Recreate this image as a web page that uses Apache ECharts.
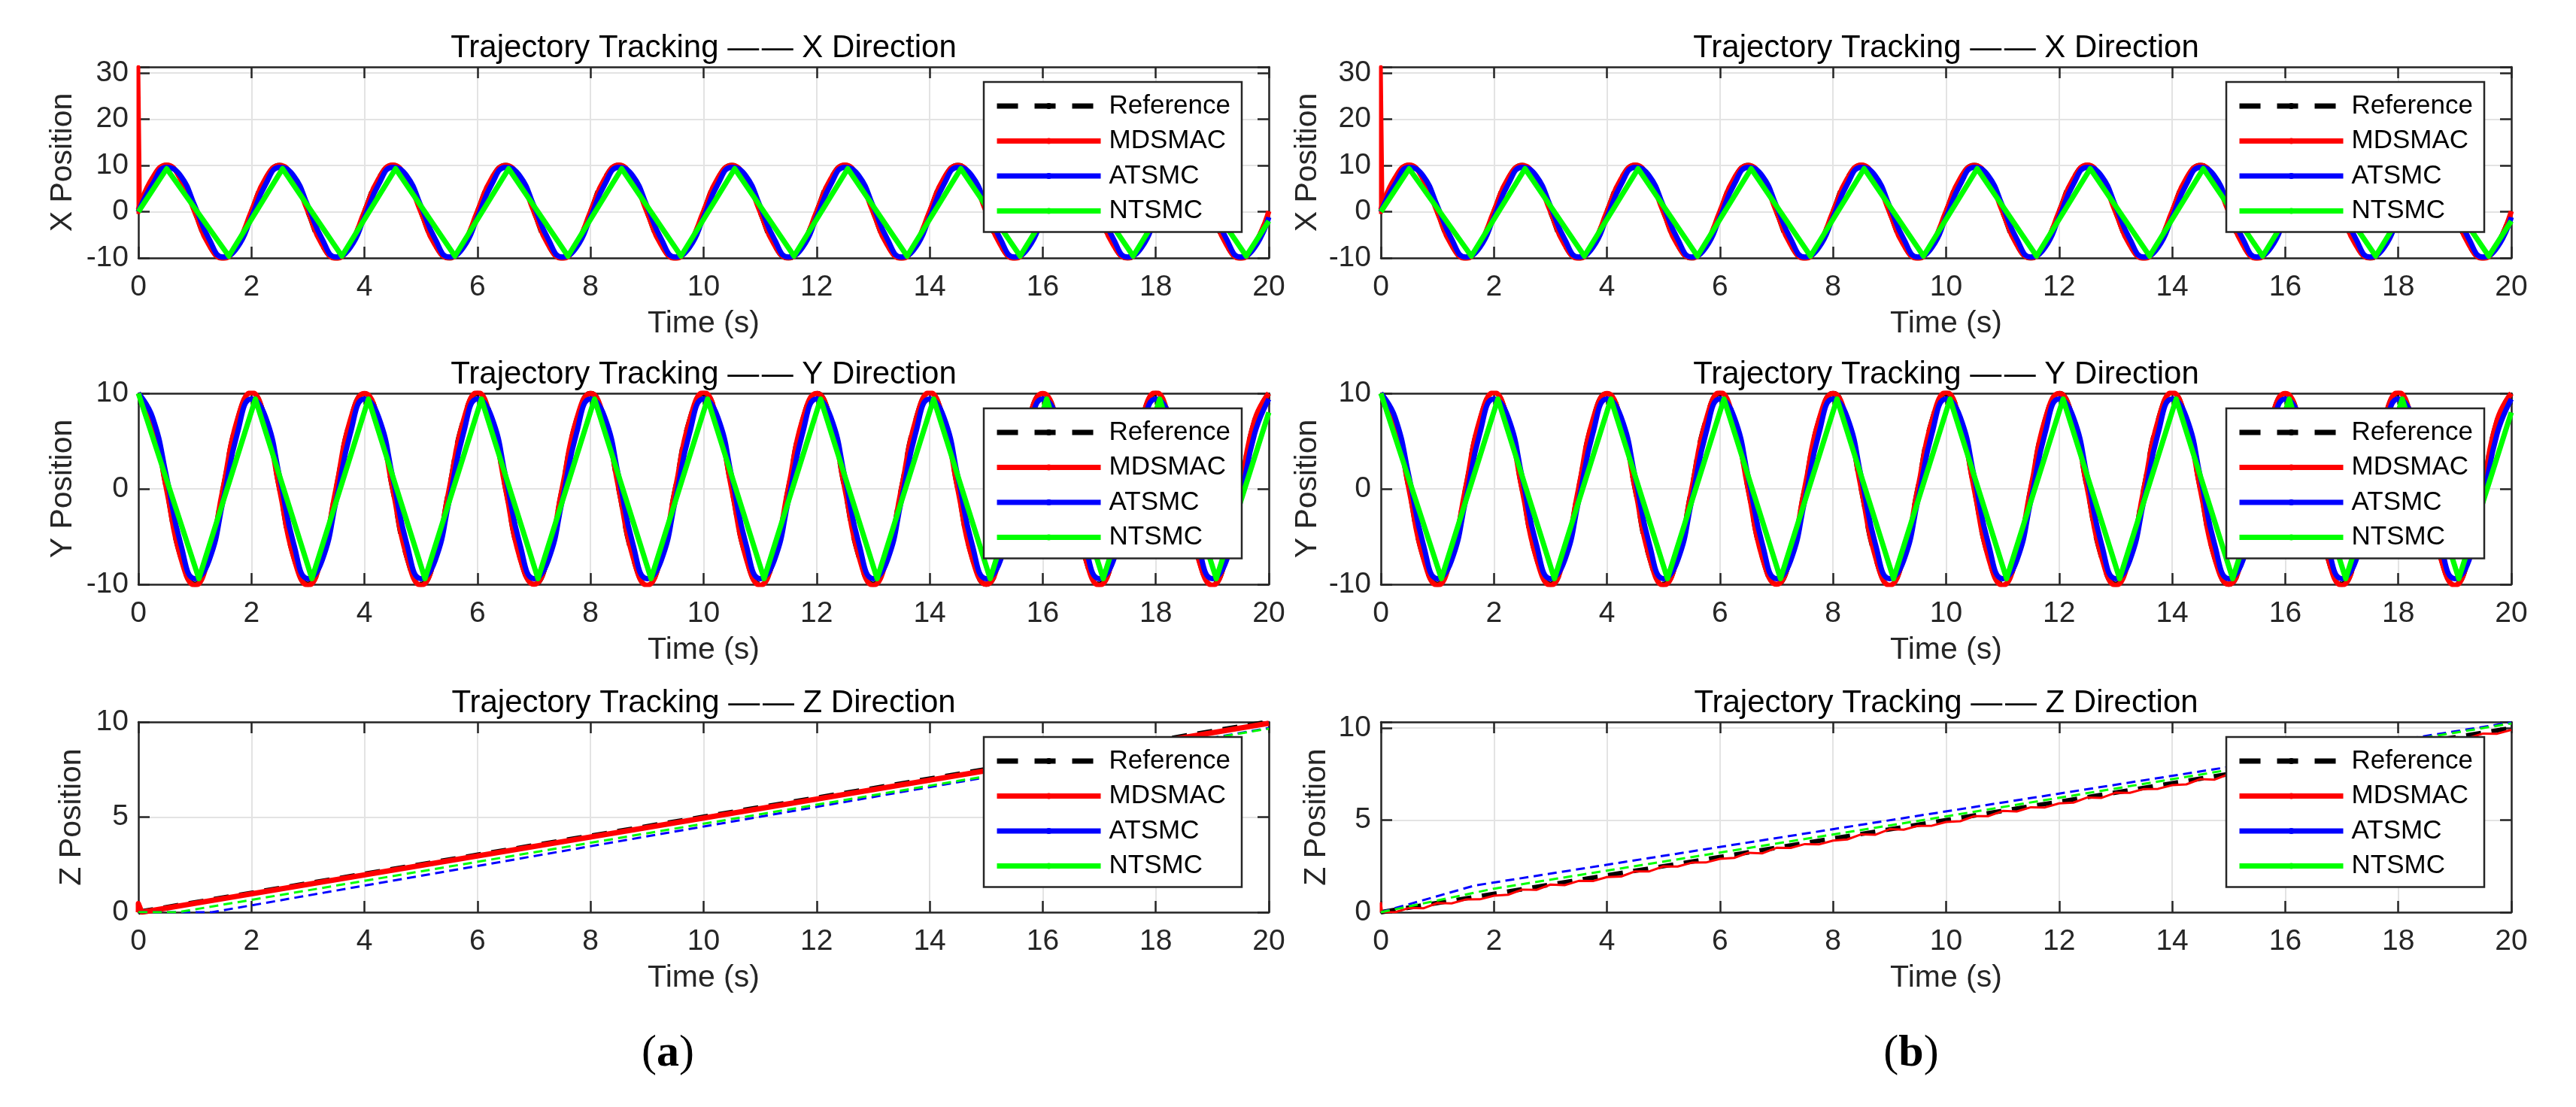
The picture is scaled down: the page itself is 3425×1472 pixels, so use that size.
<!DOCTYPE html>
<html>
<head>
<meta charset="utf-8">
<title>Trajectory Tracking</title>
<script src="https://cdn.jsdelivr.net/npm/echarts@6/dist/echarts.min.js"></script>
<style>
  html, body { margin: 0; padding: 0; background: #fff; }
  #main { width: 3425px; height: 1472px; }
</style>
</head>
<body>
<div id="main"></div>
<script>
// time samples (s) for the sinusoidal runs
const tSamples = [
  0, 0.25, 0.5, 0.75, 1, 1.25, 1.5, 1.75,
  2, 2.25, 2.5, 2.75, 3, 3.25, 3.5, 3.75,
  4, 4.25, 4.5, 4.75, 5, 5.25, 5.5, 5.75,
  6, 6.25, 6.5, 6.75, 7, 7.25, 7.5, 7.75,
  8, 8.25, 8.5, 8.75, 9, 9.25, 9.5, 9.75,
  10, 10.25, 10.5, 10.75, 11, 11.25, 11.5, 11.75,
  12, 12.25, 12.5, 12.75, 13, 13.25, 13.5, 13.75,
  14, 14.25, 14.5, 14.75, 15, 15.25, 15.5, 15.75,
  16, 16.25, 16.5, 16.75, 17, 17.25, 17.5, 17.75,
  18, 18.25, 18.5, 18.75, 19, 19.25, 19.5, 19.75,
  20
];

// X direction
const xRef = [
  0, 7.1, 10, 7.1, 0, -7.1, -10, -7.1,
  0, 7.1, 10, 7.1, 0, -7.1, -10, -7.1,
  0, 7.1, 10, 7.1, 0, -7.1, -10, -7.1,
  0, 7.1, 10, 7.1, 0, -7.1, -10, -7.1,
  0, 7.1, 10, 7.1, 0, -7.1, -10, -7.1,
  0, 7.1, 10, 7.1, 0, -7.1, -10, -7.1,
  0, 7.1, 10, 7.1, 0, -7.1, -10, -7.1,
  0, 7.1, 10, 7.1, 0, -7.1, -10, -7.1,
  0, 7.1, 10, 7.1, 0, -7.1, -10, -7.1,
  0, 7.1, 10, 7.1, 0, -7.1, -10, -7.1,
  0
];
const xMdsmac = [
  0.4, 7.3, 10.1, 7.0, -0.1, -7.2, -10.1, -7.0,
  0.1, 7.2, 10.0, 7.1, 0.1, -7.1, -10.1, -7.1,
  0.0, 7.1, 10.1, 7.0, -0.1, -7.2, -10.0, -7.0,
  0.1, 7.2, 10.0, 7.1, 0.0, -7.1, -10.1, -7.1,
  0.0, 7.1, 10.1, 7.0, -0.1, -7.2, -10.1, -7.0,
  0.1, 7.2, 10.0, 7.1, 0.0, -7.1, -10.0, -7.1,
  0.0, 7.1, 10.1, 7.0, -0.1, -7.2, -10.1, -7.0,
  0.1, 7.2, 10.0, 7.1, 0.0, -7.1, -10.1, -7.1,
  0.0, 7.1, 10.1, 7.0, -0.1, -7.2, -10.0, -7.0,
  0.1, 7.2, 10.0, 7.1, 0.0, -7.1, -10.1, -7.1,
  0.1
];
const xMdsmacStart = [[0, -0.5], [0, 31.3], [0.03, 0.5]];
const xAtsmc = [
  0, 5.9, 9.6, 7.7, 1.2, -5.9, -9.8, -7.7,
  -1.2, 5.9, 9.6, 7.7, 1.2, -5.9, -9.8, -7.7,
  -1.2, 5.9, 9.6, 7.7, 1.2, -5.9, -9.8, -7.7,
  -1.2, 5.9, 9.6, 7.7, 1.2, -5.9, -9.8, -7.7,
  -1.2, 5.9, 9.6, 7.7, 1.2, -5.9, -9.8, -7.7,
  -1.2, 5.9, 9.6, 7.7, 1.2, -5.9, -9.8, -7.7,
  -1.2, 5.9, 9.6, 7.7, 1.2, -5.9, -9.8, -7.7,
  -1.2, 5.9, 9.6, 7.7, 1.2, -5.9, -9.8, -7.7,
  -1.2, 5.9, 9.6, 7.7, 1.2, -5.9, -9.8, -7.7,
  -1.2, 5.9, 9.6, 7.7, 1.2, -5.9, -9.8, -7.7,
  -1.2
];
const xNtsmc = [
  [0, 0], [0.5, 9.3], [1.6, -9.6], [2.55, 9.3], [3.6, -9.6], [4.55, 9.3],
  [5.6, -9.6], [6.55, 9.3], [7.6, -9.6], [8.55, 9.3], [9.6, -9.6], [10.55, 9.3],
  [11.6, -9.6], [12.55, 9.3], [13.6, -9.6], [14.55, 9.3], [15.6, -9.6], [16.55, 9.3],
  [17.6, -9.6], [18.55, 9.3], [19.6, -9.6], [20, -2.0]
];

// Y direction
const yRef = [
  10, 7.1, 0, -7.1, -10, -7.1, 0, 7.1,
  10, 7.1, 0, -7.1, -10, -7.1, 0, 7.1,
  10, 7.1, 0, -7.1, -10, -7.1, 0, 7.1,
  10, 7.1, 0, -7.1, -10, -7.1, 0, 7.1,
  10, 7.1, 0, -7.1, -10, -7.1, 0, 7.1,
  10, 7.1, 0, -7.1, -10, -7.1, 0, 7.1,
  10, 7.1, 0, -7.1, -10, -7.1, 0, 7.1,
  10, 7.1, 0, -7.1, -10, -7.1, 0, 7.1,
  10, 7.1, 0, -7.1, -10, -7.1, 0, 7.1,
  10, 7.1, 0, -7.1, -10, -7.1, 0, 7.1,
  10
];
const yMdsmac = [
  10.0, 7.0, -0.1, -7.2, -10.1, -7.0, 0.1, 7.2,
  10.1, 7.0, -0.1, -7.2, -10.1, -7.0, 0.1, 7.2,
  10.0, 7.1, 0.0, -7.1, -10.1, -7.1, 0.0, 7.1,
  10.1, 7.0, -0.1, -7.2, -10.0, -7.0, 0.1, 7.2,
  10.0, 7.1, 0.0, -7.1, -10.1, -7.1, 0.0, 7.1,
  10.1, 7.0, -0.1, -7.2, -10.1, -7.0, 0.1, 7.2,
  10.0, 7.1, 0.0, -7.1, -10.1, -7.1, 0.0, 7.1,
  10.1, 7.0, -0.1, -7.2, -10.0, -7.0, 0.1, 7.2,
  10.0, 7.1, 0.0, -7.1, -10.1, -7.1, 0.0, 7.1,
  10.1, 7.0, -0.1, -7.2, -10.1, -7.0, 0.1, 7.2,
  10.0
];
const yAtsmc = [
  10, 7.5, 1.2, -5.8, -9.4, -7.5, -1.2, 5.8,
  9.4, 7.5, 1.2, -5.8, -9.4, -7.5, -1.2, 5.8,
  9.4, 7.5, 1.2, -5.8, -9.4, -7.5, -1.2, 5.8,
  9.4, 7.5, 1.2, -5.8, -9.4, -7.5, -1.2, 5.8,
  9.4, 7.5, 1.2, -5.8, -9.4, -7.5, -1.2, 5.8,
  9.4, 7.5, 1.2, -5.8, -9.4, -7.5, -1.2, 5.8,
  9.4, 7.5, 1.2, -5.8, -9.4, -7.5, -1.2, 5.8,
  9.4, 7.5, 1.2, -5.8, -9.4, -7.5, -1.2, 5.8,
  9.4, 7.5, 1.2, -5.8, -9.4, -7.5, -1.2, 5.8,
  9.4, 7.5, 1.2, -5.8, -9.4, -7.5, -1.2, 5.8,
  9.4
];
const yNtsmc = [
  [0, 10], [1.07, -9.4], [2.07, 9.4], [3.07, -9.4], [4.07, 9.4], [5.07, -9.4],
  [6.07, 9.4], [7.07, -9.4], [8.07, 9.4], [9.07, -9.4], [10.07, 9.4], [11.07, -9.4],
  [12.07, 9.4], [13.07, -9.4], [14.07, 9.4], [15.07, -9.4], [16.07, 9.4], [17.07, -9.4],
  [18.07, 9.4], [19.07, -9.4], [20, 8.0]
];

// Z direction, case (a)
const zRefA = [[0, 0], [20, 10]];
const zMdsmacA = [[0, 0], [0, 0.45], [0.06, 0], [20, 9.93]];
const zAtsmcA = [[0, 0], [1.3, 0], [20, 9.68]];
const zNtsmcA = [[0, 0], [0.7, 0], [20, 9.65]];

// Z direction, case (b)
const zRefB = [[0, 0], [20, 10]];
const zMdsmacStartB = [[0, 0], [0, 0.5], [0.02, 0]];
const zMdsmacB = [
  0, 0.00, 0.23, 0.21, 0.50, 0.48, 0.69, 0.70,
  0.90, 0.95, 1.23, 1.21, 1.50, 1.47, 1.70, 1.69,
  1.91, 1.94, 2.22, 2.22, 2.49, 2.48, 2.69, 2.70,
  2.90, 2.95, 3.23, 3.20, 3.50, 3.49, 3.70, 3.68,
  3.89, 3.95, 4.23, 4.21, 4.51, 4.48, 4.69, 4.70,
  4.90, 4.94, 5.22, 5.22, 5.50, 5.47, 5.70, 5.69,
  5.91, 5.95, 6.23, 6.21, 6.49, 6.48, 6.69, 6.70,
  6.90, 6.94, 7.23, 7.20, 7.50, 7.49, 7.70, 7.68,
  7.89, 7.95, 8.22, 8.21, 8.51, 8.48, 8.69, 8.70,
  8.90, 8.94, 9.23, 9.22, 9.50, 9.47, 9.70, 9.69,
  9.90
];
const zAtsmcB = [[0, 0], [1.66, 1.45], [20, 10.3]];
const zNtsmcB = [[0, 0], [2, 1.28], [9.83, 5.12], [20, 10.25]];

const legendNames = ['Reference', 'MDSMAC', 'ATSMC', 'NTSMC'];
const FONT = '"Liberation Sans", Arial, sans-serif';
const AXIS = '#262626';

// panel boxes: 0-2 column (a), 3-5 column (b)
const colLeft = [184, 1836];
const rowTop = [89, 523, 960];
const rowH = [254, 254, 253];
const plotW = 1503;

const panels = [
  { dir: 'X', min: -10, max: 31.3, step: 10, yGap: 80 },
  { dir: 'Y', min: -10, max: 10, step: 10, yGap: 80 },
  { dir: 'Z', min: 0, max: 10, step: 5, yGap: 68 },
  { dir: 'X', min: -10, max: 31.3, step: 10, yGap: 77 },
  { dir: 'Y', min: -10, max: 10, step: 10, yGap: 77 },
  { dir: 'Z', min: 0, max: 10.33, step: 5, yGap: 65 }
];

function zip(ts, vs) {
  return ts.map((t, i) => [t, vs[i]]);
}

const grids = [], xAxes = [], yAxes = [], titles = [], legends = [], series = [];

panels.forEach((p, i) => {
  const col = Math.floor(i / 3), row = i % 3;
  const left = colLeft[col], top = rowTop[row], h = rowH[row];
  grids.push({ left: left, top: top, width: plotW, height: h });

  const tick = { show: true, inside: true, length: 15, lineStyle: { color: AXIS, width: 2.5 } };
  const line = { show: true, onZero: false, lineStyle: { color: AXIS, width: 2.5 } };
  const grid = { show: true, lineStyle: { color: '#e3e3e3', width: 2 } };

  xAxes.push({
    type: 'value', gridIndex: i, min: 0, max: 20, interval: 2, position: 'bottom',
    axisLine: line, axisTick: tick, splitLine: grid,
    axisLabel: { fontSize: 39, color: AXIS, fontFamily: FONT, margin: 20 },
    name: 'Time (s)', nameLocation: 'middle', nameGap: 67,
    nameTextStyle: { fontSize: 41, color: AXIS, fontFamily: FONT }
  });
  xAxes.push({
    type: 'value', gridIndex: i, min: 0, max: 20, interval: 2, position: 'top',
    axisLine: line, axisTick: tick, splitLine: { show: false }, axisLabel: { show: false }
  });
  yAxes.push({
    type: 'value', gridIndex: i, min: p.min, max: p.max, interval: p.step, position: 'left',
    axisLine: line, axisTick: tick, splitLine: grid,
    axisLabel: {
      fontSize: 39, color: AXIS, fontFamily: FONT, margin: 13,
      formatter: v => (Math.abs(v % p.step) < 1e-6 ? String(v) : '')
    },
    name: p.dir + ' Position', nameLocation: 'middle', nameGap: p.yGap,
    nameTextStyle: { fontSize: 41, color: AXIS, fontFamily: FONT }
  });
  yAxes.push({
    type: 'value', gridIndex: i, min: p.min, max: p.max, interval: p.step, position: 'right',
    axisLine: line, axisTick: tick, splitLine: { show: false }, axisLabel: { show: false }
  });

  titles.push({
    text: 'Trajectory Tracking \u2014\u200a\u2014 ' + p.dir + ' Direction',
    left: left + plotW / 2, top: top - 46, textAlign: 'center', padding: 0,
    textStyle: { fontSize: 42, fontWeight: 'normal', color: '#000', fontFamily: FONT }
  });

  legends.push({
    data: legendNames, orient: 'vertical', selectedMode: false,
    right: 3425 - (left + plotW) + 36, top: top + 20,
    itemWidth: 138, itemHeight: 10, itemGap: 10.5,
    padding: [14, 15, 10, 14],
    backgroundColor: '#fff', borderColor: AXIS, borderWidth: 2.5,
    lineStyle: { width: 7 },
    textStyle: { fontSize: 35, color: '#000', fontFamily: FONT, lineHeight: 36, padding: [0, 0, 0, 6] }
  });
});

function ser(panel, name, data, color, width, dash, smooth) {
  return {
    type: 'line', name: name, data: data,
    xAxisIndex: 2 * panel, yAxisIndex: 2 * panel,
    symbol: 'none', smooth: smooth ? 0.5 : false, silent: true,
    lineStyle: { color: color, width: width, type: dash || 'solid', cap: 'butt', join: 'round' },
    itemStyle: { color: color }
  };
}

const BLACK = '#000000', RED = '#ff0000', BLUE = '#0000ff', GREEN = '#00ff00';
const REFDASH = [28, 22];
const THINDASH = [12, 7];

[0, 3].forEach(p => {
  series.push(ser(p, 'Reference', zip(tSamples, xRef), BLACK, 7, REFDASH, true));
  series.push(ser(p, 'MDSMAC', zip(tSamples, xMdsmac), RED, 7, null, true));
  series.push(ser(p, 'MDSMAC', xMdsmacStart, RED, 5, null, false));
  series.push(ser(p, 'ATSMC', zip(tSamples, xAtsmc), BLUE, 7, null, true));
  series.push(ser(p, 'NTSMC', xNtsmc, GREEN, 7, null, false));
});
[1, 4].forEach(p => {
  series.push(ser(p, 'Reference', zip(tSamples, yRef), BLACK, 7, REFDASH, true));
  series.push(ser(p, 'MDSMAC', zip(tSamples, yMdsmac), RED, 7, null, true));
  series.push(ser(p, 'ATSMC', zip(tSamples, yAtsmc), BLUE, 7, null, true));
  series.push(ser(p, 'NTSMC', yNtsmc, GREEN, 7, null, false));
});
series.push(ser(2, 'Reference', zRefA, BLACK, 7, [20, 14], false));
series.push(ser(2, 'MDSMAC', zMdsmacA, RED, 7, null, false));
series.push(ser(2, 'ATSMC', zAtsmcA, BLUE, 3, THINDASH, false));
series.push(ser(2, 'NTSMC', zNtsmcA, GREEN, 3, THINDASH, false));

series.push(ser(5, 'Reference', zRefB, BLACK, 6, [20, 14], false));
series.push(ser(5, 'MDSMAC', zMdsmacStartB.concat(zip(tSamples, zMdsmacB).slice(1)), RED, 3, null, false));
series.push(ser(5, 'ATSMC', zAtsmcB, BLUE, 3, THINDASH, false));
series.push(ser(5, 'NTSMC', zNtsmcB, GREEN, 3, THINDASH, false));

const captionRich = {
  p: { fontFamily: '"Liberation Serif", "Times New Roman", serif', fontSize: 60, color: '#000' },
  b: { fontFamily: '"Liberation Serif", "Times New Roman", serif', fontSize: 60, fontWeight: 'bold', color: '#000' }
};

const chart = echarts.init(document.getElementById('main'), null, { renderer: 'canvas' });
chart.setOption({
  backgroundColor: '#ffffff',
  animation: false,
  textStyle: { fontFamily: FONT },
  grid: grids,
  xAxis: xAxes,
  yAxis: yAxes,
  title: titles,
  legend: legends,
  series: series,
  graphic: [
    { type: 'text', x: 888, y: 1401, style: { text: '{p|(}{b|a}{p|)}', rich: captionRich, align: 'center', verticalAlign: 'middle' } },
    { type: 'text', x: 2541, y: 1401, style: { text: '{p|(}{b|b}{p|)}', rich: captionRich, align: 'center', verticalAlign: 'middle' } }
  ]
});
</script>
</body>
</html>
